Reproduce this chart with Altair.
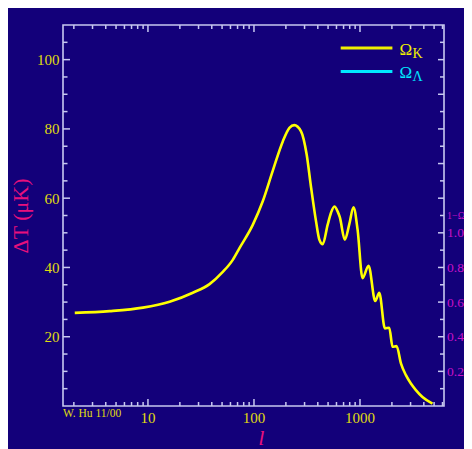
import altair as alt
import pandas as pd

# ---- data ----
ell = [2.04, 4.36, 8.97, 16.0, 26.5, 38.1, 50.8, 63.1, 73.0, 97.4, 121, 150, 187, 216,
       240, 278, 314, 346, 385, 414, 445, 495, 533, 573, 615, 645, 720, 793,
       868.6, 949, 1057, 1205, 1393, 1520, 1719, 1888, 2028, 2213, 2433, 2712, 3020,
       3366, 3882, 4830]
dT = [26.9, 27.4, 28.4, 30.1, 32.7, 35.2, 38.7, 42.2, 45.6, 52.3, 59.1, 67.8, 76.4, 80.3,
      81.1, 79.3, 72.6, 63.0, 53.3, 48.0, 46.7, 52.3, 55.8, 57.6, 56.2, 54.5, 48.0, 52.5,
      57.4, 50.9, 36.9, 40.5, 30.3, 32.7, 22.4, 22.6, 17.1, 17.3, 12.3, 8.9, 6.5,
      4.6, 2.6, 0.7]

x_labels = [10, 100, 1000]
x_major = [10, 100, 1000]
x_minor = [2, 3, 4, 5, 6, 7, 8, 9, 20, 30, 40, 50, 60, 70, 80, 90,
           200, 300, 400, 500, 600, 700, 800, 900, 2000, 3000, 4000, 5000, 6000]
y_labels = [20, 40, 60, 80, 100]
y_major = [20, 40, 60, 80, 100]
y_minor = [5, 10, 15, 25, 30, 35, 45, 50, 55, 65, 70, 75, 85, 90, 95, 105]
# right axis (1 - Omega) shares the left scale: value = left / 50
r_major = [10, 20, 30, 40, 50, 60, 70, 80, 90, 100]
r_minor = [5, 15, 25, 35, 45, 55, 65, 75, 85, 95, 105]
r_labels = [10, 20, 30, 40, 50, 55]

x_title = ["l"]
legend_sym = ["Ω", "Ω"]
legend_sub = ["K", "Λ"]
legend_col = ["#f0f000", "#00e8ff"]
credit = ["W. Hu 11/00"]

# ---- styling ----
BG = "#13007a"
FRAME = "#c8c8f0"
YEL = "#ffff00"
LAB = "#e0dc10"
PINK = "#e8107c"
MAG = "#c810c8"
SERIF = "Liberation Serif"
W, H = 381, 381

xs = alt.Scale(type="log", domain=[1.58, 6200], nice=False)
ys = alt.Scale(domain=[0, 110], nice=False)

curve_df = pd.DataFrame({"l": ell, "T": dT})

curve = alt.Chart(curve_df).mark_line(
    color=YEL, strokeWidth=2.6, interpolate="monotone"
).encode(
    x=alt.X("l:Q", scale=xs, axis=None),
    y=alt.Y("T:Q", scale=ys, axis=alt.Axis(
        orient="left", values=y_labels, ticks=False, tickSize=0, domain=False, grid=False,
        labelColor=LAB, labelFont=SERIF, labelFontSize=15, labelPadding=4,
        title="ΔT (μK)", titleColor=PINK, titleFont=SERIF, titleFontSize=22,
        titleFontWeight="normal", titlePadding=4)),
)

def ydf(v):
    return pd.DataFrame({"v": v})

left_major = alt.Chart(ydf(y_major)).mark_rule(color=FRAME, strokeWidth=1.5).encode(
    y=alt.Y("v:Q", scale=ys, axis=None), x=alt.value(0), x2=alt.value(7))
left_minor = alt.Chart(ydf(y_minor)).mark_rule(color=FRAME, strokeWidth=1.5).encode(
    y=alt.Y("v:Q", scale=ys, axis=None), x=alt.value(0), x2=alt.value(4.5))
right_major = alt.Chart(ydf(r_major)).mark_rule(color=FRAME, strokeWidth=1.5).encode(
    y=alt.Y("v:Q", scale=ys, axis=alt.Axis(
        orient="right", values=r_labels, ticks=False, tickSize=0, domain=False, grid=False,
        labelExpr="datum.value == 55 ? '1−Ωₜ' : format(datum.value / 50, '.1f')",
        labelColor=MAG, labelFont=SERIF,
        labelFontSize={"condition": {"test": "datum.value == 55", "value": 10}, "value": 13.5},
        labelPadding=2.5, labelBaseline="middle", title=None)),
    x=alt.value(W - 6), x2=alt.value(W))
right_minor = alt.Chart(ydf(r_minor)).mark_rule(color=FRAME, strokeWidth=1.5).encode(
    y=alt.Y("v:Q", scale=ys, axis=None), x=alt.value(W - 4), x2=alt.value(W))

bot_major = alt.Chart(ydf(x_major)).mark_rule(color=FRAME, strokeWidth=1.5).encode(
    x=alt.X("v:Q", scale=xs, axis=None), y=alt.value(H), y2=alt.value(H - 7))
bot_minor = alt.Chart(ydf(x_minor)).mark_rule(color=FRAME, strokeWidth=1.5).encode(
    x=alt.X("v:Q", scale=xs, axis=None), y=alt.value(H), y2=alt.value(H - 4))
top_major = alt.Chart(ydf(x_major)).mark_rule(color=FRAME, strokeWidth=1.5).encode(
    x=alt.X("v:Q", scale=xs, axis=None), y=alt.value(0), y2=alt.value(7))
top_minor = alt.Chart(ydf(x_minor)).mark_rule(color=FRAME, strokeWidth=1.5).encode(
    x=alt.X("v:Q", scale=xs, axis=None), y=alt.value(0), y2=alt.value(4))

# bottom axis labels and title as text marks placed through the x scale
x_lab = alt.Chart(ydf(x_labels)).mark_text(
    baseline="middle", align="center", font=SERIF, fontSize=15, color=LAB
).encode(x=alt.X("v:Q", scale=xs, axis=None), text=alt.Text("v:Q", format="d"),
         y=alt.value(H + 12))
x_ttl = alt.Chart(pd.DataFrame({"t": x_title})).mark_text(
    baseline="alphabetic", align="center", font=SERIF, fontSize=22, fontStyle="italic",
    color=PINK
).encode(text="t:N", x=alt.value(198.4), y=alt.value(H + 39))

credit_txt = alt.Chart(pd.DataFrame({"t": credit})).mark_text(
    align="left", baseline="middle", font=SERIF, fontSize=11.5, color=LAB
).encode(text="t:N", x=alt.value(0), y=alt.value(H + 7.5))

# legend
leg_layers = []
for i in range(2):
    yy = 23 + i * 23.4
    d = pd.DataFrame({"s": [legend_sym[i]], "k": [legend_sub[i]]})
    leg_layers.append(alt.Chart(d).mark_rule(color=legend_col[i], strokeWidth=3).encode(
        x=alt.value(277.7), x2=alt.value(329.4), y=alt.value(yy)))
    leg_layers.append(alt.Chart(d).mark_text(
        align="left", baseline="alphabetic", font=SERIF, fontSize=17, color=legend_col[i]
    ).encode(text="s:N", x=alt.value(336.5), y=alt.value(yy + 6.5)))
    leg_layers.append(alt.Chart(d).mark_text(
        align="left", baseline="alphabetic", font=SERIF, fontSize=14, color=legend_col[i]
    ).encode(text="k:N", x=alt.value(349.5), y=alt.value(yy + 10)))

chart = alt.layer(
    curve, right_major, left_major, left_minor, right_minor,
    bot_major, bot_minor, top_major, top_minor,
    x_lab, x_ttl, credit_txt, *leg_layers
).resolve_axis(y="independent").properties(
    width=W, height=H,
    background=BG,
    autosize=alt.AutoSizeParams(type="none"),
    padding={"left": 55, "top": 17, "right": 20, "bottom": 43},
).configure_view(stroke=FRAME, strokeWidth=1.6)

chart.save("out.html", embed_options={"renderer": "svg", "actions": False})
